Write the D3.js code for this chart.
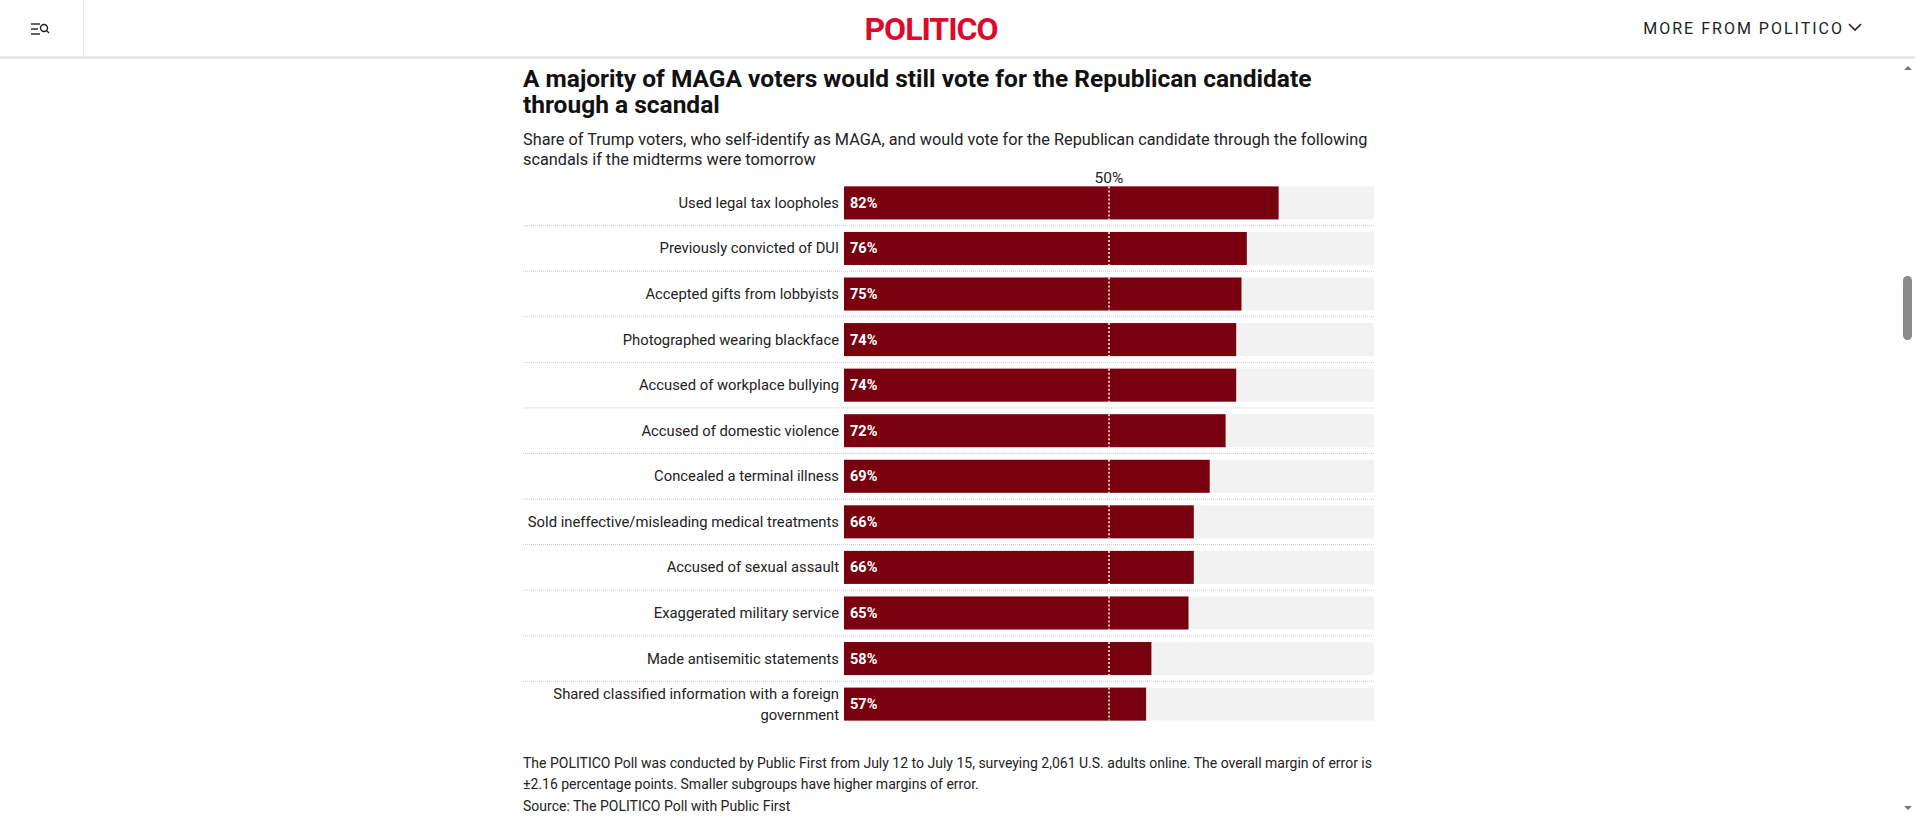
<!DOCTYPE html>
<html>
<head>
<meta charset="utf-8">
<script src="https://cdn.jsdelivr.net/npm/d3@7"></script>
<style>
  body { margin: 0; background: #fff; overflow: hidden; }
  svg { display: block; }
</style>
</head>
<body>
<svg id="chart" width="1915" height="817"></svg>
<script>
const scandals = [
  "Used legal tax loopholes",
  "Previously convicted of DUI",
  "Accepted gifts from lobbyists",
  "Photographed wearing blackface",
  "Accused of workplace bullying",
  "Accused of domestic violence",
  "Concealed a terminal illness",
  "Sold ineffective/misleading medical treatments",
  "Accused of sexual assault",
  "Exaggerated military service",
  "Made antisemitic statements",
  "Shared classified information with a foreign government",
];
const shares = [82, 76, 75, 74, 74, 72, 69, 66, 66, 65, 58, 57];
const referenceLine = 50;

const narrow = "'Liberation Sans Narrow', 'Roboto', sans-serif";
const svg = d3.select("#chart");

// header bar
svg.append("rect").attr("width", 1915).attr("height", 57).attr("fill", "#fff");
svg.append("line").attr("x1", 0).attr("x2", 1915).attr("y1", 57.5).attr("y2", 57.5)
  .attr("stroke", "#ddd").attr("stroke-width", 2);
svg.append("line").attr("x1", 83.5).attr("x2", 83.5).attr("y1", 0).attr("y2", 57)
  .attr("stroke", "#e6e6e6");
const menu = svg.append("g").attr("stroke", "#222").attr("stroke-width", 1.4).attr("fill", "none");
menu.append("line").attr("x1", 31).attr("x2", 40).attr("y1", 24).attr("y2", 24);
menu.append("line").attr("x1", 31).attr("x2", 38).attr("y1", 29).attr("y2", 29);
menu.append("line").attr("x1", 31).attr("x2", 40).attr("y1", 34).attr("y2", 34);
menu.append("circle").attr("cx", 44).attr("cy", 28).attr("r", 3.5);
menu.append("line").attr("x1", 46.5).attr("x2", 49).attr("y1", 30.5).attr("y2", 33);
svg.append("text").attr("x", 931).attr("y", 40).attr("text-anchor", "middle")
  .attr("font-family", narrow).attr("font-weight", "bold").attr("font-size", 32).attr("fill", "#dc0a2c")
  .attr("letter-spacing", -1).text("POLITICO");
svg.append("text").attr("x", 1844).attr("y", 34).attr("text-anchor", "end")
  .attr("font-family", "Roboto, sans-serif").attr("font-size", 16).attr("fill", "#222")
  .attr("letter-spacing", 2).text("MORE FROM POLITICO");
svg.append("path").attr("d", "M1849,24 l6,6 l6,-6").attr("fill", "none")
  .attr("stroke", "#222").attr("stroke-width", 1.6);

// scrollbar
svg.append("rect").attr("x", 1903).attr("y", 276).attr("width", 9).attr("height", 64)
  .attr("rx", 4.5).attr("fill", "#8a8a8a");
svg.append("path").attr("d", "M1904,70 l4,-4 l4,4 z").attr("fill", "#777");
svg.append("path").attr("d", "M1904,806 l4,4 l4,-4 z").attr("fill", "#777");

// titles
const title = svg.append("text").attr("font-family", narrow).attr("font-weight", "bold")
  .attr("font-size", 24.5).attr("fill", "#111");
title.append("tspan").attr("x", 523).attr("y", 87).text("A majority of MAGA voters would still vote for the Republican candidate");
title.append("tspan").attr("x", 523).attr("y", 113).text("through a scandal");
const sub = svg.append("text").attr("font-family", narrow).attr("font-size", 16.3).attr("fill", "#222");
sub.append("tspan").attr("x", 523).attr("y", 145).text("Share of Trump voters, who self-identify as MAGA, and would vote for the Republican candidate through the following");
sub.append("tspan").attr("x", 523).attr("y", 165).text("scandals if the midterms were tomorrow");

// chart
const x = d3.scaleLinear().domain([0, 100]).range([844, 1374]);
const y = d3.scaleBand().domain(scandals).range([180, 727]).paddingInner(0.275).paddingOuter(0.14);
const step = y.step();

const rows = svg.append("g").selectAll("g").data(scandals).join("g");

rows.filter((d, i) => i < scandals.length - 1).append("line")
  .attr("x1", 523).attr("x2", 1374)
  .attr("y1", d => y(d) + y.bandwidth() + (step - y.bandwidth()) / 2)
  .attr("y2", d => y(d) + y.bandwidth() + (step - y.bandwidth()) / 2)
  .attr("stroke", "#ccc").attr("stroke-dasharray", "1,1");

rows.append("rect").attr("x", x(0)).attr("y", d => y(d))
  .attr("width", x(100) - x(0)).attr("height", y.bandwidth()).attr("fill", "#f2f2f2");
rows.append("rect").attr("x", x(0)).attr("y", d => y(d))
  .attr("width", (d, i) => x(shares[i]) - x(0)).attr("height", y.bandwidth()).attr("fill", "#78000f");
rows.append("text").attr("x", x(0) + 6).attr("y", d => y(d) + y.bandwidth() / 2 + 5)
  .attr("font-family", narrow).attr("font-weight", "bold").attr("font-size", 14.5)
  .attr("fill", "#fff").text((d, i) => shares[i] + "%");

rows.each(function (d) {
  const t = d3.select(this).append("text").attr("text-anchor", "end")
    .attr("font-family", narrow).attr("font-size", 14.8).attr("fill", "#222");
  const mid = y(d) + y.bandwidth() / 2 + 5;
  if (d.length > 50) {
    const cut = d.lastIndexOf(" ");
    t.append("tspan").attr("x", 839).attr("y", mid - 10).text(d.slice(0, cut));
    t.append("tspan").attr("x", 839).attr("y", mid + 11).text(d.slice(cut + 1));
  } else {
    t.append("tspan").attr("x", 839).attr("y", mid).text(d);
  }
});

// 50% reference
rows.append("line").attr("x1", x(referenceLine)).attr("x2", x(referenceLine))
  .attr("y1", d => y(d)).attr("y2", d => y(d) + y.bandwidth())
  .attr("stroke", "#fff").attr("stroke-width", 1.5).attr("stroke-dasharray", "2,2");
svg.append("rect").attr("x", x(referenceLine) - 17).attr("y", 168).attr("width", 34).attr("height", 16).attr("fill", "#fff");
svg.append("text").attr("x", x(referenceLine)).attr("y", 183).attr("text-anchor", "middle")
  .attr("font-family", narrow).attr("font-size", 15.5).attr("fill", "#222").text(referenceLine + "%");

// notes
const note = svg.append("text").attr("font-family", narrow).attr("font-size", 14).attr("fill", "#222");
note.append("tspan").attr("x", 523).attr("y", 768).text("The POLITICO Poll was conducted by Public First from July 12 to July 15, surveying 2,061 U.S. adults online. The overall margin of error is");
note.append("tspan").attr("x", 523).attr("y", 789).text("±2.16 percentage points. Smaller subgroups have higher margins of error.");
note.append("tspan").attr("x", 523).attr("y", 811).text("Source: The POLITICO Poll with Public First");
</script>
</body>
</html>
